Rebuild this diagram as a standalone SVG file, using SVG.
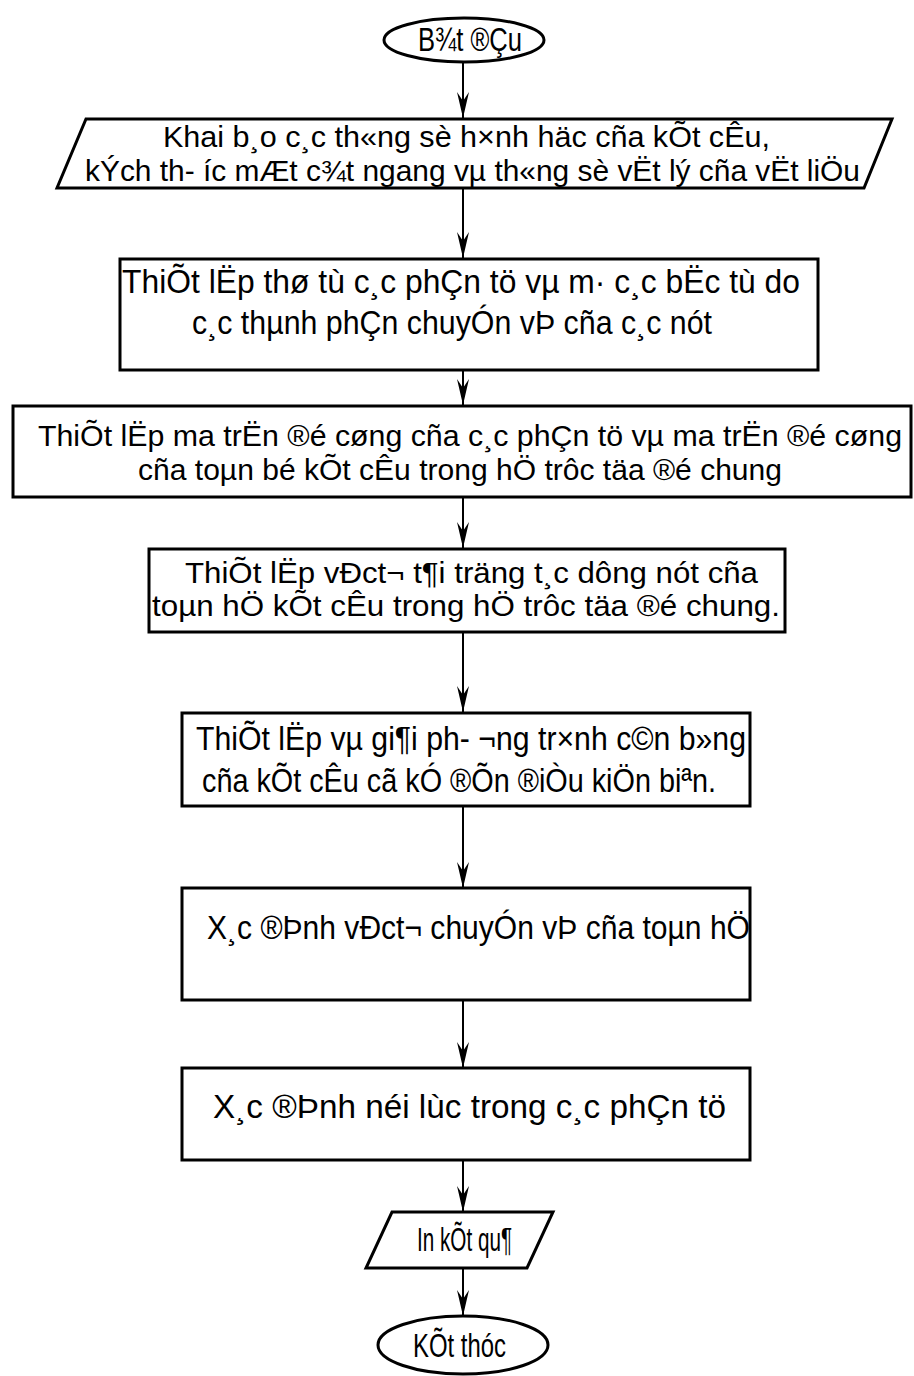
<svg xmlns="http://www.w3.org/2000/svg" width="914" height="1376" viewBox="0 0 914 1376">
<style>
.s{fill:#fff;stroke:#000;stroke-width:3}
.t{font-family:"Liberation Sans",Arial,sans-serif;font-size:33px;fill:#000}
.n{font-size:30px}
.c{stroke:#000;stroke-width:2;fill:none}
</style>
<defs>
<marker id="ah" viewBox="0 0 26 12" refX="26" refY="6" markerWidth="26" markerHeight="12" markerUnits="userSpaceOnUse" orient="auto">
<path d="M0,0 L26,6 L0,12 L9,6 Z" fill="#000"/>
</marker>
</defs>
<rect width="914" height="1376" fill="#fff"/>
<g id="connectors">
<line class="c" x1="463" y1="62" x2="463" y2="118" marker-end="url(#ah)"/>
<line class="c" x1="463" y1="188" x2="463" y2="258" marker-end="url(#ah)"/>
<line class="c" x1="463" y1="370" x2="463" y2="405" marker-end="url(#ah)"/>
<line class="c" x1="463" y1="497" x2="463" y2="548" marker-end="url(#ah)"/>
<line class="c" x1="463" y1="632" x2="463" y2="712" marker-end="url(#ah)"/>
<line class="c" x1="463" y1="806" x2="463" y2="888" marker-end="url(#ah)"/>
<line class="c" x1="463" y1="1000" x2="463" y2="1068" marker-end="url(#ah)"/>
<line class="c" x1="463" y1="1160" x2="463" y2="1212" marker-end="url(#ah)"/>
<line class="c" x1="463" y1="1268" x2="463" y2="1316" marker-end="url(#ah)"/>
</g>
<g id="start">
<ellipse class="s" cx="464" cy="40" rx="80" ry="22"/>
<text class="t" x="418" y="51" textLength="104" lengthAdjust="spacingAndGlyphs">B¾t ®Çu</text>
</g>
<g id="input">
<polygon class="s" points="86,119 892,119 864,188 57,188"/>
<text class="t n" x="163" y="147" textLength="607" lengthAdjust="spacingAndGlyphs">Khai b¸o c¸c th«ng sè h×nh häc cña kÕt cÊu,</text>
<text class="t n" x="85" y="181" textLength="775" lengthAdjust="spacingAndGlyphs">kÝch th- íc mÆt c¾t ngang vµ th«ng sè vËt lý cña vËt liÖu</text>
</g>
<g id="step1">
<rect class="s" x="120" y="259" width="698" height="111"/>
<text class="t" x="122" y="293" textLength="678" lengthAdjust="spacingAndGlyphs">ThiÕt lËp thø tù c¸c phÇn tö vµ m· c¸c bËc tù do</text>
<text class="t" x="192" y="334" textLength="520" lengthAdjust="spacingAndGlyphs">c¸c thµnh phÇn chuyÓn vÞ cña c¸c nót</text>
</g>
<g id="step2">
<rect class="s" x="13" y="406" width="898" height="91"/>
<text class="t n" x="38" y="446" textLength="864" lengthAdjust="spacingAndGlyphs">ThiÕt lËp ma trËn ®é cøng cña c¸c phÇn tö vµ ma trËn ®é cøng</text>
<text class="t n" x="138" y="480" textLength="644" lengthAdjust="spacingAndGlyphs">cña toµn bé kÕt cÊu trong hÖ trôc täa ®é chung</text>
</g>
<g id="step3">
<rect class="s" x="149" y="549" width="636" height="83"/>
<text class="t n" x="185" y="583" textLength="573" lengthAdjust="spacingAndGlyphs">ThiÕt lËp vÐct¬ t¶i träng t¸c dông nót cña</text>
<text class="t n" x="152" y="616" textLength="628" lengthAdjust="spacingAndGlyphs">toµn hÖ kÕt cÊu trong hÖ trôc täa ®é chung.</text>
</g>
<g id="step4">
<rect class="s" x="182" y="713" width="568" height="93"/>
<text class="t" x="196" y="750" textLength="550" lengthAdjust="spacingAndGlyphs">ThiÕt lËp vµ gi¶i ph- ¬ng tr×nh c©n b»ng</text>
<text class="t" x="202" y="792" textLength="514" lengthAdjust="spacingAndGlyphs">cña kÕt cÊu cã kÓ ®Õn ®iÒu kiÖn biªn.</text>
</g>
<g id="step5">
<rect class="s" x="182" y="888" width="568" height="112"/>
<text class="t" x="207" y="939" textLength="543" lengthAdjust="spacingAndGlyphs">X¸c ®Þnh vÐct¬ chuyÓn vÞ cña toµn hÖ</text>
</g>
<g id="step6">
<rect class="s" x="182" y="1068" width="568" height="92"/>
<text class="t" x="213" y="1118" textLength="513" lengthAdjust="spacingAndGlyphs">X¸c ®Þnh néi lùc trong c¸c phÇn tö</text>
</g>
<g id="output">
<polygon class="s" points="392,1212 553,1212 527,1268 366,1268"/>
<text class="t" x="417" y="1251" textLength="95" lengthAdjust="spacingAndGlyphs">In kÕt qu¶</text>
</g>
<g id="end">
<ellipse class="s" cx="463" cy="1345" rx="85" ry="29"/>
<text class="t" x="413" y="1357" textLength="93" lengthAdjust="spacingAndGlyphs">KÕt thóc</text>
</g>
</svg>
